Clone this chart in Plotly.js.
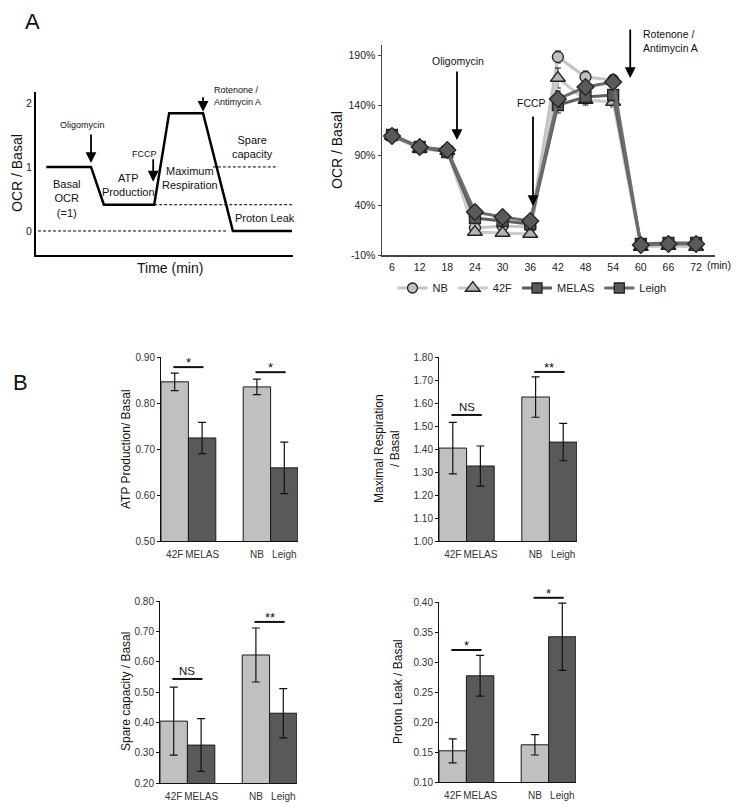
<!DOCTYPE html>
<html><head><meta charset="utf-8">
<script src="https://cdn.plot.ly/plotly-3.0.1.min.js"></script>
<style>html,body{margin:0;padding:0;background:#fff}#chart{width:739px;height:808px}</style>
</head><body><div id="chart"></div>
<script>
// ---------- DATA ----------
// Schematic (panel A, left): arbitrary time units vs OCR/Basal
const schemTime = [2, 10.7, 13.2, 23, 25.9, 32.5, 38.3, 49.8];
const schemOCR  = [1, 1, 0.41, 0.41, 1.84, 1.84, 0, 0];
const dashZeroT = [0.4, 37.4];    const dashZeroV = [0, 0];
const dashLeakT = [23, 49.8];     const dashLeakV = [0.41, 0.41];
const dashBasalT = [34.4, 47.1];  const dashBasalV = [1, 1];

// Time course (panel A, right)
const timeMin  = [6, 12, 18, 24, 30, 36, 42, 48, 54, 60, 66, 72];
const nbOCR    = [110, 97, 95, 17, 19, 18, 188, 168, 165, 1, 1, 1];
const f42OCR   = [109, 96, 94, 13, 12, 11, 167, 145, 143, -2, -1, -2];
const melasOCR = [110, 98, 93, 27, 24, 21, 140, 148, 150, 1, 2, 2];
const leighOCR = [109, 98, 95, 33, 28, 24, 146, 158, 163, 0, 1, 1];
const nbErr    = [3, 3, 3, 3, 2, 2, 6, 6, 5, 2, 2, 2];
const f42Err   = [3, 3, 3, 2, 2, 2, 10, 5, 5, 2, 2, 2];
const melasErr = [3, 3, 3, 4, 3, 3, 8, 6, 5, 2, 2, 2];
const leighErr = [3, 3, 3, 6, 3, 3, 8, 5, 5, 2, 2, 2];
const lineTicks = [-10, 40, 90, 140, 190];
const lineTickText = ['-10%', '40%', '90%', '140%', '190%'];
const timeTicks = [6, 12, 18, 24, 30, 36, 42, 48, 54, 60, 66, 72];

// Panel B bars
const barCats = ['42F', 'MELAS', 'NB', 'Leigh'];
const barPos  = [0.5, 1.5, 3.5, 4.5];
const atpMean   = [0.846, 0.724, 0.835, 0.659];
const atpErr    = [0.019, 0.034, 0.017, 0.056];
const maxMean   = [1.404, 1.326, 1.626, 1.430];
const maxErr    = [0.112, 0.087, 0.088, 0.081];
const spareMean = [0.404, 0.325, 0.622, 0.430];
const spareErr  = [0.112, 0.087, 0.089, 0.081];
const leakMean  = [0.152, 0.277, 0.162, 0.342];
const leakErr   = [0.020, 0.034, 0.017, 0.056];
const atpSig   = ['*', '*'];   const atpSigY   = [0.878, 0.867];
const maxSig   = ['NS', '**']; const maxSigY   = [1.548, 1.735];
const spareSig = ['NS', '**']; const spareSigY = [0.543, 0.731];
const leakSig  = ['*', '*'];   const leakSigY  = [0.320, 0.407];
const sigSpanX = [[0.45, 1.55], [3.45, 4.55]];

// ---------- LAYOUT HELPERS ----------
const W = 739, H = 808;
const xd = (a, b) => [a / W, b / W];
const yd = (top, bot) => [1 - bot / H, 1 - top / H];
const px = p => p / W, py = p => 1 - p / H;
const FONT = 'Liberation Sans, Arial, sans-serif';
const LIGHT = '#c0c0c0', DARK = '#595959';

const traces = [];
// schematic
traces.push({x: schemTime, y: schemOCR, xaxis: 'x', yaxis: 'y', mode: 'lines', line: {color: '#000', width: 2.5}, showlegend: false});
[[dashZeroT, dashZeroV], [dashLeakT, dashLeakV], [dashBasalT, dashBasalV]].forEach(d => {
  traces.push({x: d[0], y: d[1], xaxis: 'x', yaxis: 'y', mode: 'lines', line: {color: '#000', width: 1, dash: '3px,2px'}, showlegend: false});
});

// time course
const series = [
  {name: 'NB', y: nbOCR, e: nbErr, sym: 'circle', fill: LIGHT, lc: '#c4c4c4', size: 11},
  {name: '42F', y: f42OCR, e: f42Err, sym: 'triangle-up', fill: '#b4b4b4', lc: '#cacaca', size: 13},
  {name: 'MELAS', y: melasOCR, e: melasErr, sym: 'square', fill: DARK, lc: '#5e5e5e', size: 11},
  {name: 'Leigh', y: leighOCR, e: leighErr, sym: 'diamond', fill: '#5a5a5a', lc: '#6c6c6c', size: 13}
];
series.forEach(s => {
  traces.push({x: timeMin, y: s.y, xaxis: 'x2', yaxis: 'y2', mode: 'lines+markers', showlegend: false, cliponaxis: false,
    line: {color: s.lc, width: 3},
    marker: {symbol: s.sym, size: s.size, color: s.fill, line: {color: '#222', width: 1.3}},
    error_y: {type: 'data', array: s.e, color: '#111', thickness: 1, width: 3}});
});
// legend entries (Leigh shown with square in the legend)
const legendSyms = {NB: 'circle', '42F': 'triangle-up', MELAS: 'square', Leigh: 'square'};
series.forEach(s => {
  traces.push({x: [null], y: [null], xaxis: 'x2', yaxis: 'y2', mode: 'lines+markers', name: s.name, showlegend: true,
    line: {color: s.lc, width: 3},
    marker: {symbol: legendSyms[s.name], size: s.name === '42F' ? 13 : 10, color: s.fill, line: {color: '#222', width: 1.3}}});
});

// bars
const barSets = [
  {ax: '3', mean: atpMean, err: atpErr},
  {ax: '4', mean: maxMean, err: maxErr},
  {ax: '5', mean: spareMean, err: spareErr},
  {ax: '6', mean: leakMean, err: leakErr}
];
barSets.forEach(b => {
  traces.push({type: 'bar', x: barPos, y: b.mean, width: 1, xaxis: 'x' + b.ax, yaxis: 'y' + b.ax, showlegend: false,
    marker: {color: [LIGHT, DARK, LIGHT, DARK], line: {color: '#1a1a1a', width: 1}},
    error_y: {type: 'data', array: b.err, color: '#111', thickness: 1.2, width: 4}});
});

// axes
const tickF = {family: FONT, size: 10, color: '#333'};
function barX(dom) {
  return {domain: dom, range: [0, 5], showline: true, linecolor: '#111', linewidth: 1, showgrid: false, zeroline: false,
    tickmode: 'array', tickvals: barPos, ticktext: barCats, tickangle: 0, ticks: 'outside', ticklen: 4, tickcolor: 'rgba(0,0,0,0)', tickfont: tickF, fixedrange: true};
}
function barY(dom, range, dtick) {
  return {domain: dom, range: range, dtick: dtick, tick0: range[0], tickformat: '.2f', tickangle: 0, showline: true, linecolor: '#111', linewidth: 1,
    showgrid: false, zeroline: false, ticks: 'outside', ticklen: 3, tickcolor: '#111', tickfont: tickF, fixedrange: true};
}
const axDefs = {
  '3': {xdom: xd(161, 298), ydom: yd(357, 541), range: [0.5, 0.9], dtick: 0.1},
  '4': {xdom: xd(439, 577), ydom: yd(357, 541), range: [1.0, 1.8], dtick: 0.1},
  '5': {xdom: xd(160, 297), ydom: yd(601, 783), range: [0.2, 0.8], dtick: 0.1},
  '6': {xdom: xd(439, 576), ydom: yd(602, 782), range: [0.1, 0.4], dtick: 0.05}
};

const layout = {
  width: W, height: H, margin: {l: 0, r: 0, t: 0, b: 0}, paper_bgcolor: '#fff', plot_bgcolor: 'rgba(0,0,0,0)',
  font: {family: FONT, color: '#111'}, hovermode: false, bargap: 0,
  showlegend: true,
  legend: {orientation: 'h', x: 532 / W, xanchor: 'center', y: py(288), yanchor: 'middle', font: {family: FONT, size: 11, color: '#222'},
    itemwidth: 30, bgcolor: 'rgba(0,0,0,0)', traceorder: 'normal'},
  xaxis: {domain: xd(36, 293), range: [0, 50], anchor: 'y', showline: true, linecolor: '#000', linewidth: 2, showticklabels: false, ticks: '', showgrid: false, zeroline: false},
  yaxis: {domain: yd(92, 255), range: [-0.375, 2.17], anchor: 'x', showline: true, linecolor: '#000', linewidth: 2, tickvals: [0, 1, 2], ticks: '',
    tickfont: {family: FONT, size: 10.5, color: '#222'}, showgrid: false, zeroline: false},
  xaxis2: {domain: xd(382, 715), range: [3.83, 76.1], anchor: 'y2', showline: true, linecolor: '#444', linewidth: 1.5, tickvals: timeTicks, tickangle: 0,
    ticks: 'outside', ticklen: 2, tickcolor: 'rgba(0,0,0,0)', tickfont: {family: FONT, size: 10.5, color: '#222'}, showgrid: false, zeroline: false},
  yaxis2: {domain: yd(45, 255), range: [-10, 200], anchor: 'x2', showline: true, linecolor: '#444', linewidth: 1.5, tickvals: lineTicks, ticktext: lineTickText,
    ticks: 'outside', ticklen: 3, tickcolor: '#444', tickfont: {family: FONT, size: 10.5, color: '#222'}, showgrid: false, zeroline: false},
  annotations: [], shapes: []
};
Object.keys(axDefs).forEach(k => {
  const d = axDefs[k];
  layout['xaxis' + k] = Object.assign(barX(d.xdom), {anchor: 'y' + k});
  layout['yaxis' + k] = Object.assign(barY(d.ydom, d.range, d.dtick), {anchor: 'x' + k});
});

// significance markers (converted to paper coords)
function toPaper(k, xv, yv) {
  const d = axDefs[k];
  return [d.xdom[0] + xv / 5 * (d.xdom[1] - d.xdom[0]),
          d.ydom[0] + (yv - d.range[0]) / (d.range[1] - d.range[0]) * (d.ydom[1] - d.ydom[0])];
}
[['3', atpSig, atpSigY], ['4', maxSig, maxSigY], ['5', spareSig, spareSigY], ['6', leakSig, leakSigY]].forEach(g => {
  g[1].forEach((lab, i) => {
    const p0 = toPaper(g[0], sigSpanX[i][0], g[2][i]);
    const p1 = toPaper(g[0], sigSpanX[i][1], g[2][i]);
    layout.shapes.push({type: 'line', xref: 'paper', yref: 'paper', x0: p0[0], x1: p1[0], y0: p0[1], y1: p1[1], line: {color: '#111', width: 2}});
    const star = lab.indexOf('*') >= 0;
    layout.annotations.push({xref: 'paper', yref: 'paper', x: (p0[0] + p1[0]) / 2, y: p0[1], yanchor: 'bottom', xanchor: 'center',
      text: lab, showarrow: false, yshift: star ? -5 : 0, font: {family: FONT, size: star ? 13 : 11.5, color: '#111'}});
  });
});

function txt(x, y, text, size, opts) {
  layout.annotations.push(Object.assign({xref: 'paper', yref: 'paper', x: px(x), y: py(y), text: text, showarrow: false,
    xanchor: 'center', yanchor: 'middle', font: {family: FONT, size: size, color: '#111'}}, opts || {}));
}
function arrow(xref, yref, x, y, ay) {
  layout.annotations.push({xref: xref, yref: yref, x: x, y: y, ax: 0, ay: ay, text: '', showarrow: true,
    arrowhead: 2, arrowsize: 1.2, arrowwidth: 1.8, arrowcolor: '#000'});
}

// panel letters
txt(32, 21, 'A', 22);
txt(20, 382, 'B', 22);

// schematic texts
txt(17, 173, 'OCR / Basal', 14, {textangle: -90});
txt(170, 268, 'Time (min)', 14);
txt(82, 125, 'Oligomycin', 9);
txt(144, 154, 'FCCP', 9);
txt(212, 96, 'Rotenone /<br>Antimycin A', 9, {xanchor: 'left', align: 'left'});
txt(67, 198, 'Basal<br>OCR<br>(=1)', 11);
txt(128, 185, 'ATP<br>Production', 11);
txt(190, 178, 'Maximum<br>Respiration', 11);
txt(253, 147, 'Spare<br>capacity', 11);
txt(265, 218, 'Proton Leak', 11);
arrow('x', 'y', 10.7, 1.06, -30);
arrow('x', 'y', 22.8, 0.77, -24);
arrow('x', 'y', 32.5, 1.86, -16);

// time-course texts
txt(337, 150, 'OCR / Basal', 14, {textangle: -90});
txt(719, 265, '(min)', 10.5);
txt(458, 61, 'Oligomycin', 10.5);
txt(531, 103, 'FCCP', 10.5);
txt(641, 41, 'Rotenone /<br>Antimycin A', 10.5, {xanchor: 'left', align: 'left'});
arrow('x2', 'y2', 20.1, 105, -70);
arrow('x2', 'y2', 36.6, 39, -91);
arrow('x2', 'y2', 57.7, 167, -50);

// bar chart axis titles
txt(126, 449, 'ATP Production/ Basal', 12, {textangle: -90});
txt(387, 449, 'Maximal Respiration<br>/ Basal', 12, {textangle: -90});
txt(126, 692, 'Spare capacity / Basal', 12, {textangle: -90});
txt(398, 692, 'Proton Leak / Basal', 12, {textangle: -90});

Plotly.newPlot('chart', traces, layout, {staticPlot: true, displayModeBar: false});
</script></body></html>
